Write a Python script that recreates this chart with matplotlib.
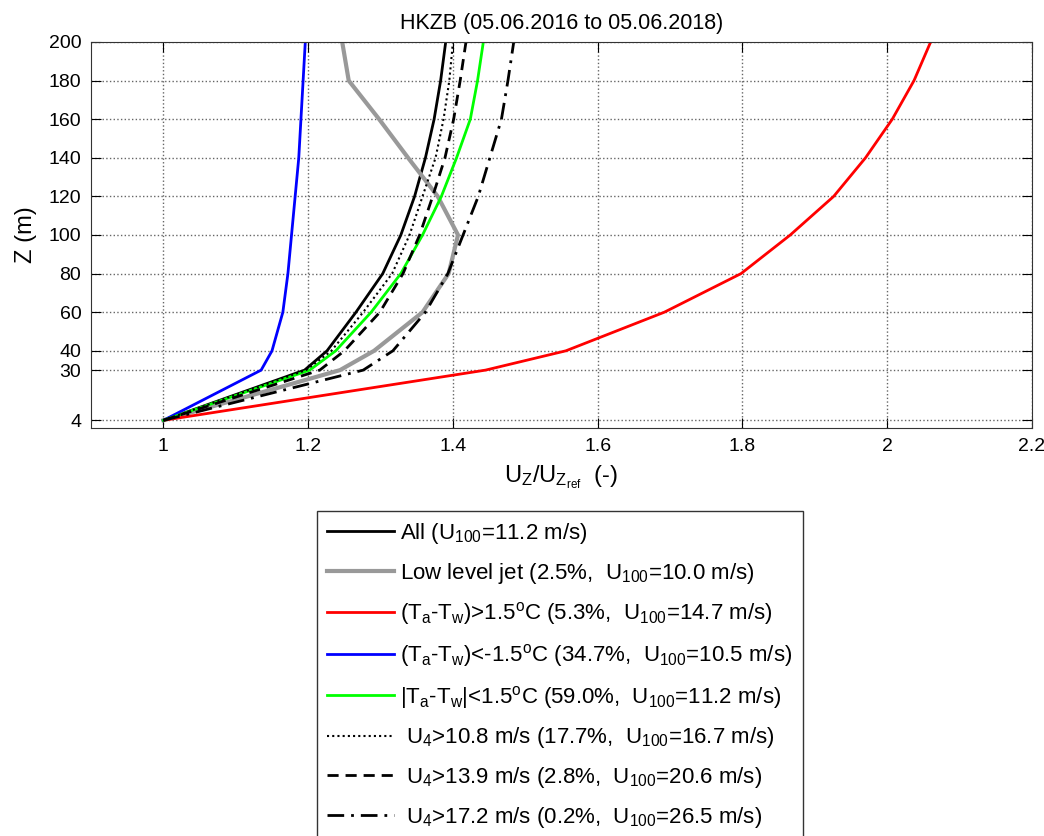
import numpy as np
import matplotlib.pyplot as plt

plt.rcParams['font.family'] = ['Liberation Sans', 'DejaVu Sans']
plt.rcParams['mathtext.default'] = 'regular'

# heights (m)
z = [4, 30, 40, 60, 80, 100, 120, 140, 160, 180, 200]

# normalised wind speed profiles U_z / U_zref
u_all = [1.0, 1.195, 1.226, 1.266, 1.303, 1.328, 1.347, 1.362, 1.374, 1.383, 1.390]
u_llj = [1.0, 1.244, 1.291, 1.358, 1.394, 1.407, 1.379, 1.338, 1.298, 1.256, 1.247]
u_stable = [1.0, 1.445, 1.556, 1.692, 1.798, 1.866, 1.926, 1.970, 2.007, 2.037, 2.060]
u_unstable = [1.0, 1.135, 1.150, 1.165, 1.172, 1.177, 1.182, 1.187, 1.190, 1.193, 1.196]
u_neutral = [1.0, 1.202, 1.238, 1.287, 1.328, 1.358, 1.384, 1.405, 1.424, 1.434, 1.442]
u_u4_108 = [1.0, 1.197, 1.232, 1.276, 1.316, 1.340, 1.358, 1.376, 1.387, 1.395, 1.400]
u_u4_139 = [1.0, 1.216, 1.250, 1.299, 1.331, 1.354, 1.372, 1.389, 1.401, 1.410, 1.418]
u_u4_172 = [1.0, 1.276, 1.317, 1.362, 1.393, 1.414, 1.435, 1.451, 1.467, 1.476, 1.484]

labels = [
    'All (U$_{100}$=11.2 m/s)',
    'Low level jet (2.5%,  U$_{100}$=10.0 m/s)',
    '(T$_a$-T$_w$)>1.5$^o$C (5.3%,  U$_{100}$=14.7 m/s)',
    '(T$_a$-T$_w$)<-1.5$^o$C (34.7%,  U$_{100}$=10.5 m/s)',
    '|T$_a$-T$_w$|<1.5$^o$C (59.0%,  U$_{100}$=11.2 m/s)',
    ' U$_4$>10.8 m/s (17.7%,  U$_{100}$=16.7 m/s)',
    ' U$_4$>13.9 m/s (2.8%,  U$_{100}$=20.6 m/s)',
    ' U$_4$>17.2 m/s (0.2%,  U$_{100}$=26.5 m/s)',
]

fig = plt.figure(figsize=(10.44, 8.36), dpi=100)
ax = fig.add_axes([0.0872, 0.488, 0.9013, 0.4618])

ax.plot(u_all, z, color='k', lw=2, label=labels[0])
ax.plot(u_llj, z, color=(0.6, 0.6, 0.6), lw=3, label=labels[1])
ax.plot(u_stable, z, color='r', lw=2, label=labels[2])
ax.plot(u_unstable, z, color='b', lw=2, label=labels[3])
ax.plot(u_neutral, z, color=(0, 1, 0), lw=2, label=labels[4])
ax.plot(u_u4_108, z, color='k', lw=1.5, ls=(0, (1, 1.5)), label=labels[5])
ax.plot(u_u4_139, z, color='k', lw=2, ls=(0, (4, 2.5)), label=labels[6])
ax.plot(u_u4_172, z, color='k', lw=2, ls=(0, (6, 2.5, 1, 2.5)), label=labels[7])

ax.set_xlim(0.9, 2.2)
ax.set_ylim(0, 200)
ax.set_xticks([1, 1.2, 1.4, 1.6, 1.8, 2, 2.2])
ax.set_xticklabels(['1', '1.2', '1.4', '1.6', '1.8', '2', '2.2'])
ax.set_yticks([4, 30, 40, 60, 80, 100, 120, 140, 160, 180, 200])
ax.grid(True, ls=':', color='0.4', lw=1)
ax.tick_params(direction='in', top=True, right=True, length=7, labelsize=14, pad=7)
for s in ax.spines.values():
    s.set_color('0.2')

ax.set_title('HKZB (05.06.2016 to 05.06.2018)', fontsize=15.5, pad=9)
ax.set_xlabel('U$_Z$/U$_{Z_{ref}}$  (-)', fontsize=17, labelpad=6)
ax.set_ylabel('Z (m)', fontsize=17, labelpad=8)

leg = fig.legend(loc='upper left', bbox_to_anchor=(317 / 1044, 1 - 511 / 836),
                 fontsize=16, frameon=True, fancybox=False, edgecolor='k',
                 handlelength=3.0, handletextpad=0.3, labelspacing=0.66,
                 borderpad=0.45, borderaxespad=0)
leg.get_frame().set_linewidth(1)

fig.savefig('out.png', dpi=100)
